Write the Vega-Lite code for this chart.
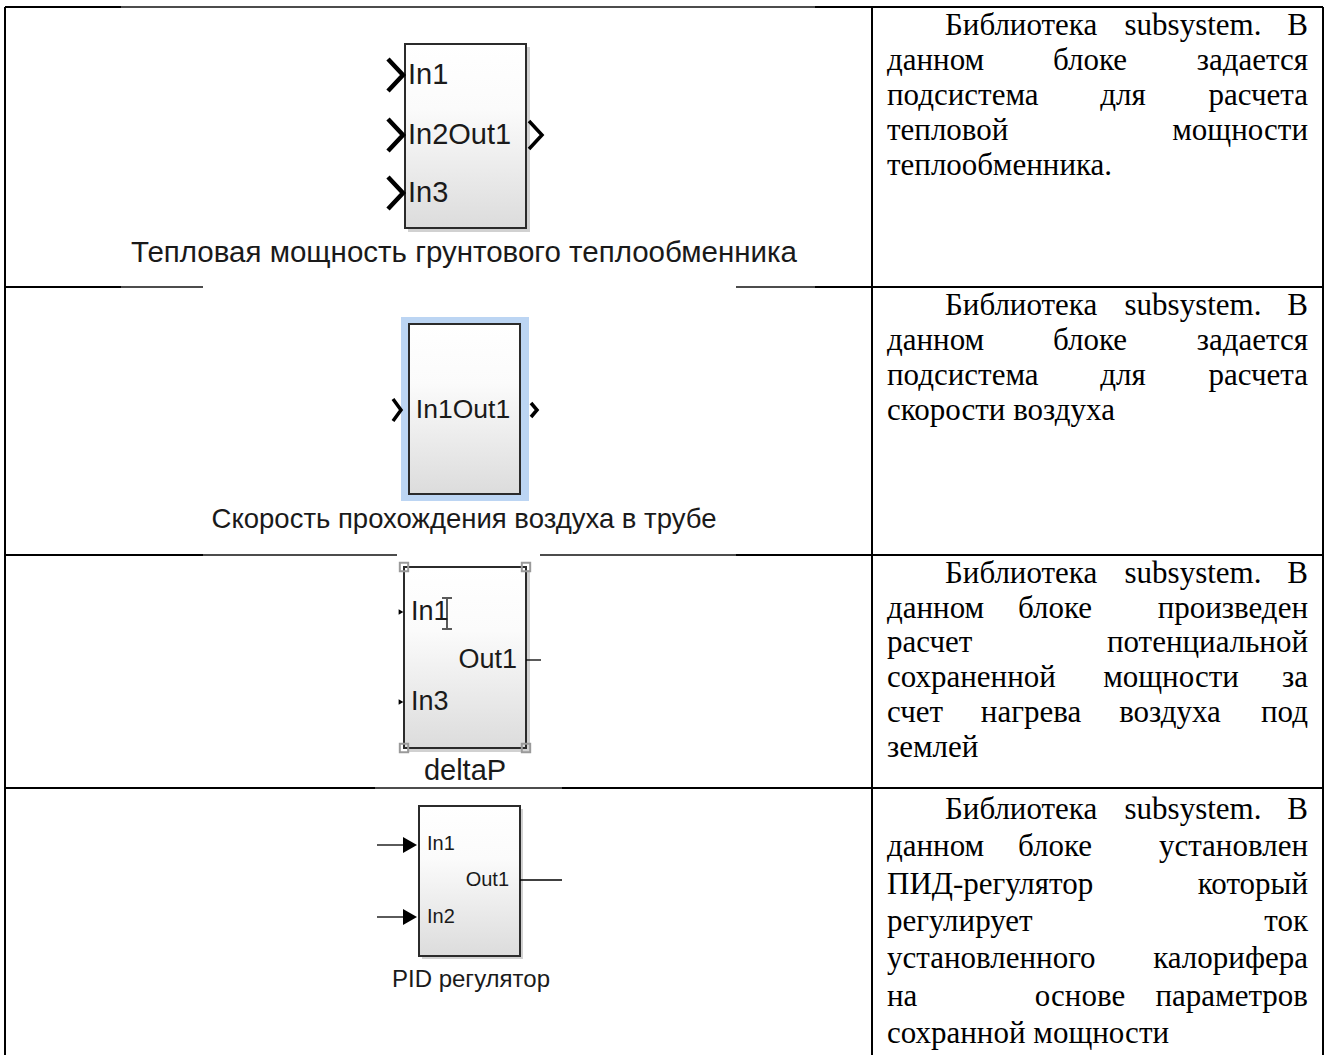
{
  "$schema": "https://vega.github.io/schema/vega-lite/v6.json",
  "width": 1330,
  "height": 1055,
  "autosize": {"type": "none"},
  "padding": 0,
  "background": "white",
  "config": {"view": {"stroke": null}},
  "datasets": {
    "grid": [
      {"x": 5, "y": 7, "x2": 5, "y2": 1055, "k": "thick"},
      {"x": 872, "y": 7, "x2": 872, "y2": 1055, "k": "thick"},
      {"x": 1323, "y": 7, "x2": 1323, "y2": 1055, "k": "thick"},
      {"x": 5, "y": 7, "x2": 121, "y2": 7, "k": "thick"},
      {"x": 121, "y": 7, "x2": 815, "y2": 7, "k": "thin"},
      {"x": 815, "y": 7, "x2": 1323, "y2": 7, "k": "thick"},
      {"x": 5, "y": 287, "x2": 121, "y2": 287, "k": "thick"},
      {"x": 121, "y": 287, "x2": 203, "y2": 287, "k": "thin"},
      {"x": 736, "y": 287, "x2": 815, "y2": 287, "k": "thin"},
      {"x": 815, "y": 287, "x2": 1323, "y2": 287, "k": "thick"},
      {"x": 5, "y": 555, "x2": 203, "y2": 555, "k": "thick"},
      {"x": 203, "y": 555, "x2": 397, "y2": 555, "k": "thin"},
      {"x": 540, "y": 555, "x2": 736, "y2": 555, "k": "thin"},
      {"x": 736, "y": 555, "x2": 1323, "y2": 555, "k": "thick"},
      {"x": 5, "y": 788, "x2": 375, "y2": 788, "k": "thick"},
      {"x": 375, "y": 788, "x2": 562, "y2": 788, "k": "thin"},
      {"x": 562, "y": 788, "x2": 1323, "y2": 788, "k": "thick"}
    ],
    "selection": [
      {"x": 401, "x2": 529, "y": 317, "y2": 501}
    ],
    "shadows": [
      {"x": 408, "x2": 530, "y": 47, "y2": 232},
      {"x": 407, "x2": 530, "y": 570, "y2": 752},
      {"x": 422, "x2": 523, "y": 809, "y2": 959}
    ],
    "blocks": [
      {"x": 405, "x2": 526, "y": 44, "y2": 228},
      {"x": 409, "x2": 520, "y": 324, "y2": 494},
      {"x": 404, "x2": 526, "y": 567, "y2": 748},
      {"x": 419, "x2": 520, "y": 806, "y2": 956}
    ],
    "handles": [
      {"x": 404, "y": 567},
      {"x": 526, "y": 567},
      {"x": 404, "y": 748},
      {"x": 526, "y": 748}
    ],
    "paths": [
      {"g": "a1", "o": 1, "x": 388, "y": 59, "k": "thick"},
      {"g": "a1", "o": 2, "x": 403, "y": 75, "k": "thick"},
      {"g": "a1", "o": 3, "x": 388, "y": 91, "k": "thick"},
      {"g": "a2", "o": 1, "x": 388, "y": 119, "k": "thick"},
      {"g": "a2", "o": 2, "x": 403, "y": 135, "k": "thick"},
      {"g": "a2", "o": 3, "x": 388, "y": 151, "k": "thick"},
      {"g": "a3", "o": 1, "x": 388, "y": 177, "k": "thick"},
      {"g": "a3", "o": 2, "x": 403, "y": 193, "k": "thick"},
      {"g": "a3", "o": 3, "x": 388, "y": 209, "k": "thick"},
      {"g": "a4", "o": 1, "x": 529, "y": 121, "k": "mid"},
      {"g": "a4", "o": 2, "x": 542, "y": 135, "k": "mid"},
      {"g": "a4", "o": 3, "x": 529, "y": 149, "k": "mid"},
      {"g": "b1", "o": 1, "x": 393, "y": 399, "k": "mid"},
      {"g": "b1", "o": 2, "x": 401, "y": 410, "k": "mid"},
      {"g": "b1", "o": 3, "x": 393, "y": 421, "k": "mid"},
      {"g": "b2", "o": 1, "x": 531, "y": 403, "k": "mid"},
      {"g": "b2", "o": 2, "x": 537, "y": 410, "k": "mid"},
      {"g": "b2", "o": 3, "x": 531, "y": 417, "k": "mid"},
      {"g": "c1", "o": 1, "x": 526, "y": 660, "k": "thin"},
      {"g": "c1", "o": 2, "x": 541, "y": 660, "k": "thin"},
      {"g": "c2", "o": 1, "x": 447, "y": 599, "k": "thin"},
      {"g": "c2", "o": 2, "x": 447, "y": 628, "k": "thin"},
      {"g": "c3", "o": 1, "x": 442, "y": 598, "k": "thin"},
      {"g": "c3", "o": 2, "x": 452, "y": 598, "k": "thin"},
      {"g": "c4", "o": 1, "x": 442, "y": 629, "k": "thin"},
      {"g": "c4", "o": 2, "x": 452, "y": 629, "k": "thin"},
      {"g": "d1", "o": 1, "x": 377, "y": 845, "k": "thin"},
      {"g": "d1", "o": 2, "x": 405, "y": 845, "k": "thin"},
      {"g": "d2", "o": 1, "x": 377, "y": 917, "k": "thin"},
      {"g": "d2", "o": 2, "x": 405, "y": 917, "k": "thin"},
      {"g": "d3", "o": 1, "x": 520, "y": 880, "k": "thin"},
      {"g": "d3", "o": 2, "x": 562, "y": 880, "k": "thin"}
    ],
    "arrows": [
      {"x": 410, "y": 845, "k": "big"},
      {"x": 410, "y": 917, "k": "big"},
      {"x": 401, "y": 612, "k": "small"},
      {"x": 401, "y": 702, "k": "small"}
    ],
    "labels": [
      {"x": 408, "y": 75, "t": "In1", "k": "L29"},
      {"x": 408, "y": 135, "t": "In2Out1", "k": "L29"},
      {"x": 408, "y": 193, "t": "In3", "k": "L29"},
      {"x": 464, "y": 253, "t": "Тепловая мощность грунтового теплообменника", "k": "C29"},
      {"x": 463, "y": 410, "t": "In1Out1", "k": "C26"},
      {"x": 464, "y": 520, "t": "Скорость прохождения воздуха в трубе", "k": "C27"},
      {"x": 411, "y": 612, "t": "In1", "k": "L27"},
      {"x": 517, "y": 660, "t": "Out1", "k": "R27"},
      {"x": 411, "y": 702, "t": "In3", "k": "L27"},
      {"x": 465, "y": 771, "t": "deltaP", "k": "C29s"},
      {"x": 427, "y": 844, "t": "In1", "k": "L20"},
      {"x": 509, "y": 880, "t": "Out1", "k": "R20"},
      {"x": 427, "y": 917, "t": "In2", "k": "L20"},
      {"x": 471, "y": 980, "t": "PID регулятор", "k": "C24"}
    ],
    "words": [
      {"x": 945, "y": 35, "t": "Библиотека", "a": "l"},
      {"x": 1193, "y": 35, "t": "subsystem.", "a": "c"},
      {"x": 1308, "y": 35, "t": "В", "a": "r"},
      {"x": 887, "y": 70, "t": "данном", "a": "l"},
      {"x": 1090, "y": 70, "t": "блоке", "a": "c"},
      {"x": 1308, "y": 70, "t": "задается", "a": "r"},
      {"x": 887, "y": 105, "t": "подсистема", "a": "l"},
      {"x": 1123, "y": 105, "t": "для", "a": "c"},
      {"x": 1308, "y": 105, "t": "расчета", "a": "r"},
      {"x": 887, "y": 140, "t": "тепловой", "a": "l"},
      {"x": 1308, "y": 140, "t": "мощности", "a": "r"},
      {"x": 887, "y": 175, "t": "теплообменника.", "a": "l"},
      {"x": 945, "y": 315, "t": "Библиотека", "a": "l"},
      {"x": 1193, "y": 315, "t": "subsystem.", "a": "c"},
      {"x": 1308, "y": 315, "t": "В", "a": "r"},
      {"x": 887, "y": 350, "t": "данном", "a": "l"},
      {"x": 1090, "y": 350, "t": "блоке", "a": "c"},
      {"x": 1308, "y": 350, "t": "задается", "a": "r"},
      {"x": 887, "y": 385, "t": "подсистема", "a": "l"},
      {"x": 1123, "y": 385, "t": "для", "a": "c"},
      {"x": 1308, "y": 385, "t": "расчета", "a": "r"},
      {"x": 887, "y": 420, "t": "скорости воздуха", "a": "l"},
      {"x": 945, "y": 583, "t": "Библиотека", "a": "l"},
      {"x": 1193, "y": 583, "t": "subsystem.", "a": "c"},
      {"x": 1308, "y": 583, "t": "В", "a": "r"},
      {"x": 887, "y": 618, "t": "данном", "a": "l"},
      {"x": 1055, "y": 618, "t": "блоке", "a": "c"},
      {"x": 1308, "y": 618, "t": "произведен", "a": "r"},
      {"x": 887, "y": 652, "t": "расчет", "a": "l"},
      {"x": 1308, "y": 652, "t": "потенциальной", "a": "r"},
      {"x": 887, "y": 687, "t": "сохраненной", "a": "l"},
      {"x": 1171, "y": 687, "t": "мощности", "a": "c"},
      {"x": 1308, "y": 687, "t": "за", "a": "r"},
      {"x": 887, "y": 722, "t": "счет", "a": "l"},
      {"x": 1031, "y": 722, "t": "нагрева", "a": "c"},
      {"x": 1170, "y": 722, "t": "воздуха", "a": "c"},
      {"x": 1308, "y": 722, "t": "под", "a": "r"},
      {"x": 887, "y": 757, "t": "землей", "a": "l"},
      {"x": 945, "y": 819, "t": "Библиотека", "a": "l"},
      {"x": 1193, "y": 819, "t": "subsystem.", "a": "c"},
      {"x": 1308, "y": 819, "t": "В", "a": "r"},
      {"x": 887, "y": 856, "t": "данном", "a": "l"},
      {"x": 1055, "y": 856, "t": "блоке", "a": "c"},
      {"x": 1308, "y": 856, "t": "установлен", "a": "r"},
      {"x": 887, "y": 894, "t": "ПИД-регулятор", "a": "l"},
      {"x": 1308, "y": 894, "t": "который", "a": "r"},
      {"x": 887, "y": 931, "t": "регулирует", "a": "l"},
      {"x": 1308, "y": 931, "t": "ток", "a": "r"},
      {"x": 887, "y": 968, "t": "установленного", "a": "l"},
      {"x": 1308, "y": 968, "t": "калорифера", "a": "r"},
      {"x": 887, "y": 1006, "t": "на", "a": "l"},
      {"x": 1080, "y": 1006, "t": "основе", "a": "c"},
      {"x": 1308, "y": 1006, "t": "параметров", "a": "r"},
      {"x": 887, "y": 1043, "t": "сохранной мощности", "a": "l"}
    ]
  },
  "encoding": {
    "x": {"field": "x", "type": "quantitative", "scale": {"domain": [0, 1330], "nice": false, "zero": false}, "axis": null},
    "y": {"field": "y", "type": "quantitative", "scale": {"domain": [0, 1055], "nice": false, "zero": false, "reverse": true}, "axis": null}
  },
  "layer": [
    {
      "data": {"name": "grid"},
      "transform": [{"filter": "datum.k === 'thick'"}],
      "mark": {"type": "rule", "color": "#000000", "strokeWidth": 2},
      "encoding": {"x2": {"field": "x2"}, "y2": {"field": "y2"}}
    },
    {
      "data": {"name": "grid"},
      "transform": [{"filter": "datum.k === 'thin'"}],
      "mark": {"type": "rule", "color": "#111111", "strokeWidth": 1.4},
      "encoding": {"x2": {"field": "x2"}, "y2": {"field": "y2"}}
    },
    {
      "data": {"name": "selection"},
      "mark": {"type": "rect", "fill": "#bcd5f3"},
      "encoding": {"x2": {"field": "x2"}, "y2": {"field": "y2"}}
    },
    {
      "data": {"name": "shadows"},
      "mark": {"type": "rect", "fill": "#9a9a9a", "opacity": 0.45},
      "encoding": {"x2": {"field": "x2"}, "y2": {"field": "y2"}}
    },
    {
      "data": {"name": "blocks"},
      "mark": {
        "type": "rect",
        "stroke": "#2b2b2b",
        "strokeWidth": 2,
        "fill": {"gradient": "linear", "x1": 0, "y1": 0, "x2": 0, "y2": 1, "stops": [{"offset": 0, "color": "#ffffff"}, {"offset": 0.35, "color": "#fbfbfb"}, {"offset": 1, "color": "#dcdcdc"}]}
      },
      "encoding": {"x2": {"field": "x2"}, "y2": {"field": "y2"}}
    },
    {
      "data": {"name": "handles"},
      "mark": {"type": "point", "shape": "square", "size": 70, "filled": false, "stroke": "#9a9a9a", "strokeWidth": 2, "opacity": 1}
    },
    {
      "data": {"name": "paths"},
      "transform": [{"filter": "datum.k === 'thick'"}],
      "mark": {"type": "line", "color": "#000000", "strokeJoin": "miter", "strokeWidth": 4.5},
      "encoding": {
        "detail": {"field": "g", "type": "nominal"},
        "order": {"field": "o", "type": "quantitative"}
      }
    },
    {
      "data": {"name": "paths"},
      "transform": [{"filter": "datum.k === 'mid'"}],
      "mark": {"type": "line", "color": "#000000", "strokeJoin": "miter", "strokeWidth": 3.5},
      "encoding": {
        "detail": {"field": "g", "type": "nominal"},
        "order": {"field": "o", "type": "quantitative"}
      }
    },
    {
      "data": {"name": "paths"},
      "transform": [{"filter": "datum.k === 'thin'"}],
      "mark": {"type": "line", "color": "#000000", "strokeJoin": "miter", "strokeWidth": 1.3},
      "encoding": {
        "detail": {"field": "g", "type": "nominal"},
        "order": {"field": "o", "type": "quantitative"}
      }
    },
    {
      "data": {"name": "arrows"},
      "transform": [{"filter": "datum.k === 'big'"}],
      "mark": {"type": "point", "shape": "triangle-right", "size": 260, "filled": true, "color": "#000000", "opacity": 1}
    },
    {
      "data": {"name": "arrows"},
      "transform": [{"filter": "datum.k === 'small'"}],
      "mark": {"type": "point", "shape": "triangle-right", "size": 30, "filled": true, "color": "#000000", "opacity": 1}
    },
    {
      "data": {"name": "labels"},
      "transform": [{"filter": "datum.k === 'L29'"}],
      "mark": {"type": "text", "font": "Liberation Sans", "fontSize": 29, "align": "left", "baseline": "middle", "color": "#1a1a1a"},
      "encoding": {"text": {"field": "t"}}
    },
    {
      "data": {"name": "labels"},
      "transform": [{"filter": "datum.k === 'L27'"}],
      "mark": {"type": "text", "font": "Liberation Sans", "fontSize": 27, "align": "left", "baseline": "middle", "color": "#1a1a1a"},
      "encoding": {"text": {"field": "t"}}
    },
    {
      "data": {"name": "labels"},
      "transform": [{"filter": "datum.k === 'R27'"}],
      "mark": {"type": "text", "font": "Liberation Sans", "fontSize": 27, "align": "right", "baseline": "middle", "color": "#1a1a1a"},
      "encoding": {"text": {"field": "t"}}
    },
    {
      "data": {"name": "labels"},
      "transform": [{"filter": "datum.k === 'C29'"}],
      "mark": {"type": "text", "font": "Liberation Sans", "fontSize": 29.5, "align": "center", "baseline": "middle", "color": "#1a1a1a"},
      "encoding": {"text": {"field": "t"}}
    },
    {
      "data": {"name": "labels"},
      "transform": [{"filter": "datum.k === 'C29s'"}],
      "mark": {"type": "text", "font": "Liberation Sans", "fontSize": 29, "align": "center", "baseline": "middle", "color": "#1a1a1a"},
      "encoding": {"text": {"field": "t"}}
    },
    {
      "data": {"name": "labels"},
      "transform": [{"filter": "datum.k === 'C27'"}],
      "mark": {"type": "text", "font": "Liberation Sans", "fontSize": 27.5, "align": "center", "baseline": "middle", "color": "#1a1a1a"},
      "encoding": {"text": {"field": "t"}}
    },
    {
      "data": {"name": "labels"},
      "transform": [{"filter": "datum.k === 'C26'"}],
      "mark": {"type": "text", "font": "Liberation Sans", "fontSize": 26.5, "align": "center", "baseline": "middle", "color": "#1a1a1a"},
      "encoding": {"text": {"field": "t"}}
    },
    {
      "data": {"name": "labels"},
      "transform": [{"filter": "datum.k === 'C24'"}],
      "mark": {"type": "text", "font": "Liberation Sans", "fontSize": 24, "align": "center", "baseline": "middle", "color": "#1a1a1a"},
      "encoding": {"text": {"field": "t"}}
    },
    {
      "data": {"name": "labels"},
      "transform": [{"filter": "datum.k === 'L20'"}],
      "mark": {"type": "text", "font": "Liberation Sans", "fontSize": 20, "align": "left", "baseline": "middle", "color": "#1a1a1a"},
      "encoding": {"text": {"field": "t"}}
    },
    {
      "data": {"name": "labels"},
      "transform": [{"filter": "datum.k === 'R20'"}],
      "mark": {"type": "text", "font": "Liberation Sans", "fontSize": 20, "align": "right", "baseline": "middle", "color": "#1a1a1a"},
      "encoding": {"text": {"field": "t"}}
    },
    {
      "data": {"name": "words"},
      "transform": [{"filter": "datum.a === 'l'"}],
      "mark": {"type": "text", "font": "Liberation Serif", "fontSize": 31, "align": "left", "baseline": "alphabetic", "color": "#000000"},
      "encoding": {"text": {"field": "t"}}
    },
    {
      "data": {"name": "words"},
      "transform": [{"filter": "datum.a === 'c'"}],
      "mark": {"type": "text", "font": "Liberation Serif", "fontSize": 31, "align": "center", "baseline": "alphabetic", "color": "#000000"},
      "encoding": {"text": {"field": "t"}}
    },
    {
      "data": {"name": "words"},
      "transform": [{"filter": "datum.a === 'r'"}],
      "mark": {"type": "text", "font": "Liberation Serif", "fontSize": 31, "align": "right", "baseline": "alphabetic", "color": "#000000"},
      "encoding": {"text": {"field": "t"}}
    }
  ]
}
